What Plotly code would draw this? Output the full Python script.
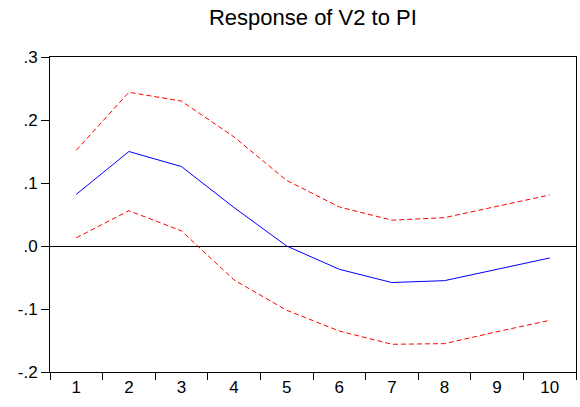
import plotly.graph_objects as go

periods = ["1", "2", "3", "4", "5", "6", "7", "8", "9", "10"]
response = [0.082, 0.150, 0.126, 0.061, 0.000, -0.037, -0.058, -0.055, -0.037, -0.019]
upper = [0.152, 0.244, 0.230, 0.173, 0.104, 0.062, 0.041, 0.045, 0.063, 0.081]
lower = [0.013, 0.056, 0.024, -0.054, -0.102, -0.135, -0.156, -0.155, -0.136, -0.118]
y_ticks = [0.3, 0.2, 0.1, 0.0, -0.1, -0.2]
y_labels = [".3", ".2", ".1", ".0", "-.1", "-.2"]

fig = go.Figure()
fig.add_trace(go.Scatter(x=periods, y=upper, mode="lines",
                         line=dict(color="#FF0000", width=1, dash="5px,3px")))
fig.add_trace(go.Scatter(x=periods, y=lower, mode="lines",
                         line=dict(color="#FF0000", width=1, dash="5px,3px")))
fig.add_trace(go.Scatter(x=periods, y=response, mode="lines",
                         line=dict(color="#0000FF", width=1)))

fig.update_layout(
    width=580, height=407,
    margin=dict(l=50, r=4, t=57, b=35),
    paper_bgcolor="white", plot_bgcolor="white",
    showlegend=False,
    font=dict(family="Liberation Sans, Arial, sans-serif", color="black", size=16),
    title=dict(text="Response of V2 to PI", x=0.5395, xanchor="center",
               y=0.958, yanchor="middle", font=dict(size=22, color="black")),
    xaxis=dict(type="category", range=[-0.5, 9.5], tickson="boundaries",
               ticks="outside", ticklen=7, tickcolor="black", tickwidth=1,
               showline=True, linecolor="black", linewidth=1, mirror=True,
               showgrid=False, zeroline=False, tickfont=dict(size=17)),
    yaxis=dict(range=[-0.2, 0.3], tickmode="array", tickvals=y_ticks, ticktext=y_labels,
               ticks="outside", ticklen=8, tickcolor="black", tickwidth=1,
               showline=True, linecolor="black", linewidth=1, mirror=True,
               showgrid=False, zeroline=True, zerolinecolor="black", zerolinewidth=1,
               tickfont=dict(size=17)),
)

fig.write_html("out.html")
